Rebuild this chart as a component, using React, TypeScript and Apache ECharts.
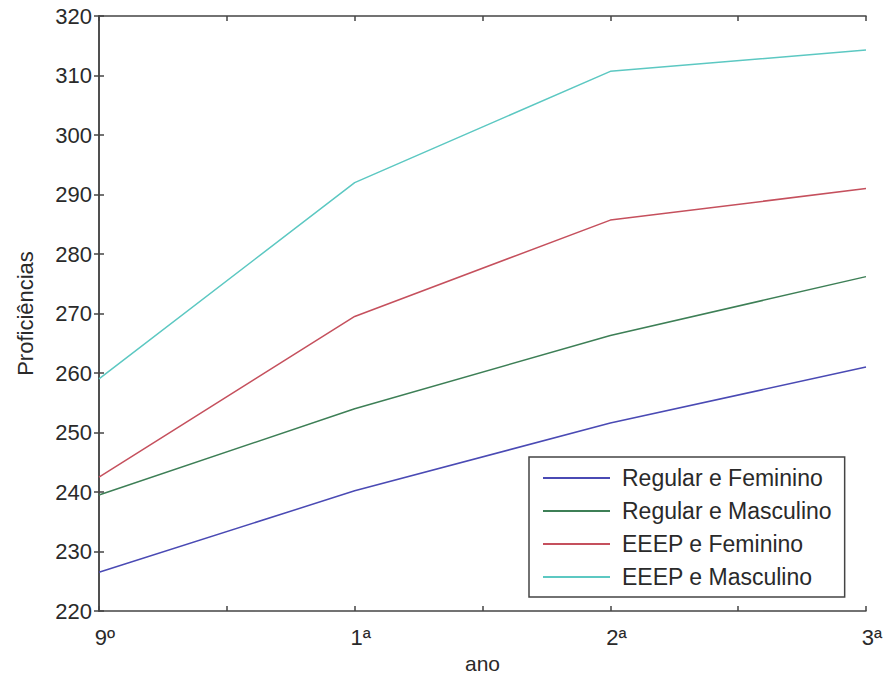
import React, { useEffect, useRef } from "react";
import * as echarts from "echarts";

// School year stages along the x axis
const anos = ["9º", "1ª", "2ª", "3ª"];

// Proficiency scores per group
const regularFeminino = [226.5, 240.2, 251.6, 261.0];
const regularMasculino = [239.5, 254.0, 266.3, 276.2];
const eeepFeminino = [242.5, 269.5, 285.7, 291.0];
const eeepMasculino = [259.0, 292.0, 310.7, 314.3];

const seriesNames = [
  "Regular e Feminino",
  "Regular e Masculino",
  "EEEP e Feminino",
  "EEEP e Masculino",
];
const seriesValues = [regularFeminino, regularMasculino, eeepFeminino, eeepMasculino];
const seriesColors = ["#4a4ab4", "#3d7f56", "#c5505d", "#5cc8c2"];

const FONT = "'Liberation Sans', Arial, sans-serif";
const AXIS_COLOR = "#444";
const TEXT_COLOR = "#2a2a2a";

export default function App() {
  const ref = useRef<HTMLDivElement>(null);

  useEffect(() => {
    if (!ref.current) return;
    const chart = echarts.init(ref.current, undefined, { renderer: "svg" });

    const axisLine = { show: true, lineStyle: { color: AXIS_COLOR, width: 1.5 } };
    const tick = { show: true, inside: true, length: 5, lineStyle: { color: AXIS_COLOR, width: 1.5 } };

    chart.setOption({
      animation: false,
      backgroundColor: "#fff",
      textStyle: { fontFamily: FONT },
      grid: { left: 99, top: 16, right: 25, bottom: 66, outerBoundsMode: "none", containLabel: false },
      legend: {
        orient: "vertical",
        left: 529,
        top: 457,
        padding: [9, 13, 8, 14],
        itemGap: 9,
        itemWidth: 67,
        itemHeight: 2,
        icon: "rect",
        backgroundColor: "#fff",
        borderColor: AXIS_COLOR,
        borderWidth: 1.5,
        borderRadius: 0,
        textStyle: { fontSize: 23, color: TEXT_COLOR, fontFamily: FONT, lineHeight: 24, padding: [0, 0, 0, 7] },
        data: seriesNames,
      },
      xAxis: [
        {
          type: "value",
          min: 0,
          max: 3,
          interval: 0.5,
          name: "ano",
          nameLocation: "middle",
          nameGap: 41,
          nameTextStyle: { fontSize: 21, color: TEXT_COLOR, fontFamily: FONT },
          axisLine,
          axisTick: tick,
          splitLine: { show: false },
          axisLabel: {
            fontSize: 22,
            color: TEXT_COLOR,
            margin: 15,
            padding: [0, 0, 0, 12],
            showMinLabel: true,
            showMaxLabel: true,
            formatter: (v: number) => (Number.isInteger(v) ? anos[v] : ""),
          },
        },
        {
          type: "value",
          position: "top",
          min: 0,
          max: 3,
          interval: 0.5,
          axisLine,
          axisTick: tick,
          axisLabel: { show: false },
          splitLine: { show: false },
        },
      ],
      yAxis: [
        {
          type: "value",
          min: 220,
          max: 320,
          interval: 10,
          name: "Proficiências",
          nameLocation: "middle",
          nameGap: 63,
          nameTextStyle: { fontSize: 22, color: TEXT_COLOR, fontFamily: FONT },
          axisLine,
          axisTick: tick,
          splitLine: { show: false },
          axisLabel: { fontSize: 22, color: TEXT_COLOR, margin: 7 },
        },
        {
          type: "value",
          position: "right",
          min: 220,
          max: 320,
          interval: 10,
          axisLine,
          axisTick: tick,
          axisLabel: { show: false },
          splitLine: { show: false },
        },
      ],
      series: seriesNames.map((name, i) => ({
        name,
        type: "line",
        xAxisIndex: 0,
        yAxisIndex: 0,
        data: seriesValues[i].map((v, j) => [j, v]),
        color: seriesColors[i],
        lineStyle: { width: 1.5, color: seriesColors[i] },
        showSymbol: false,
        symbol: "none",
        z: 2,
      })),
    });

    return () => chart.dispose();
  }, []);

  // Pinned to the page corner so the chart fills the whole window
  return (
    <div
      ref={ref}
      style={{ position: "fixed", left: 0, top: 0, width: 891, height: 677 }}
    />
  );
}
